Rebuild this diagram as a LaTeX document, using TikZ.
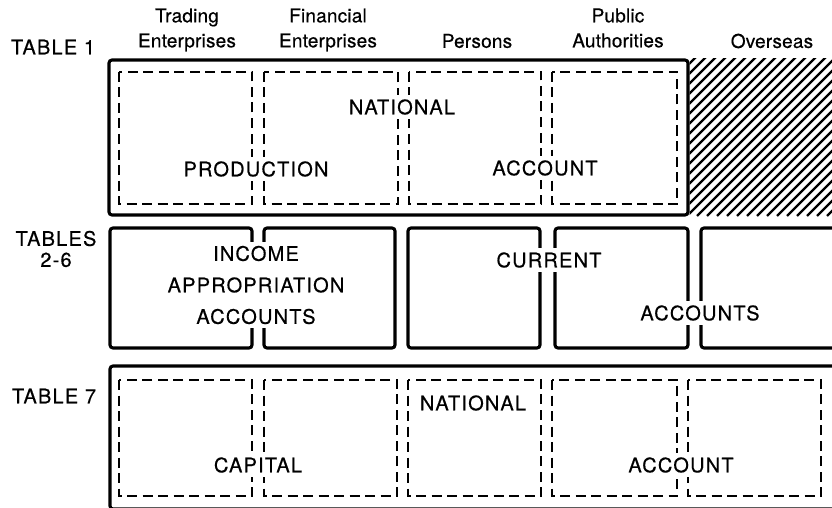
\documentclass[tikz,border=0pt]{standalone}
\usepackage{fontspec}
\setmainfont{TeX Gyre Heros}
\newfontfamily\headfam[LetterSpace=1,FakeBold=0.5]{TeX Gyre Heros}
\newfontfamily\capsfam[LetterSpace=6,FakeBold=0.5]{TeX Gyre Heros}
\newcommand\headfont{\headfam\fontsize{19}{25}\selectfont}
\newcommand\capsfont{\capsfam\fontsize{20}{31.5}\selectfont}

\begin{document}
\begin{tikzpicture}[x=1pt,y=-1pt,
  acc box/.style={line width=3.1pt,rounded corners=3pt},
  sector box/.style={line width=2.6pt,dash pattern=on 10pt off 5.5pt},
  hatch line/.style={line width=2.3pt},
  head/.style={font=\headfont,align=center},
  acc label/.style={font=\capsfont,fill=white,inner xsep=3pt,inner ysep=4pt,align=center}]
  \useasboundingbox (0,0) rectangle (832,508);
  \clip (0,0) rectangle (832,508);

  % sector headings
  \node[head] (trading) at (187,30) {Trading\\Enterprises};
  \node[head] (financial) at (328,30) {Financial\\Enterprises};
  \node[head] (persons) at (477,41) {Persons};
  \node[head] (public) at (618,28) {Public\\Authorities};
  \node[head] (overseas) at (772,41) {Overseas};

  % table 1: national production account
  \draw[acc box] (109,60) rectangle (688,215);
  \foreach \l/\r in {119/252,264/398,409/541,552/677}
    \draw[sector box] (\l,72) rectangle (\r,204);
  \begin{scope}
    \clip (689.5,59) rectangle (832,216);
    \foreach \i in {0,...,31}
      \draw[hatch line] (527+\i*10,216) -- ++(160,-160);
  \end{scope}

  % tables 2-6: current accounts
  \foreach \l/\r in {110/252,264/395,408/540,555/688,701/850}
    \draw[acc box] (\l,228) rectangle (\r,348);

  % table 7: national capital account
  \draw[acc box] (110,366) rectangle (850,509);
  \foreach \l/\r in {119/252,264/397,408/541,552/677,688/821}
    \draw[sector box] (\l,380) rectangle (\r,496);

  % labels
  \node[acc label] (tab1) at (53,47) {TABLE 1};
  \node[acc label] (natprod1) at (402,107) {NATIONAL};
  \node[acc label] (production) at (256,169) {PRODUCTION};
  \node[acc label] (account1) at (545,168) {ACCOUNT};

  \node[acc label,font=\capsfam\fontsize{20}{21}\selectfont] (tab26) at (56,249) {TABLES\\2-6};
  \node[acc label] (income) at (256,285) {INCOME\\APPROPRIATION\\ACCOUNTS};
  \node[acc label] (current) at (549,260) {CURRENT};
  \node[acc label] (accounts) at (700,313) {ACCOUNTS};

  \node[acc label] (tab7) at (54,396) {TABLE 7};
  \node[acc label] (natcap) at (473,403) {NATIONAL};
  \node[acc label] (capital) at (258,465) {CAPITAL};
  \node[acc label] (account7) at (681,465) {ACCOUNT};
\end{tikzpicture}
\end{document}
